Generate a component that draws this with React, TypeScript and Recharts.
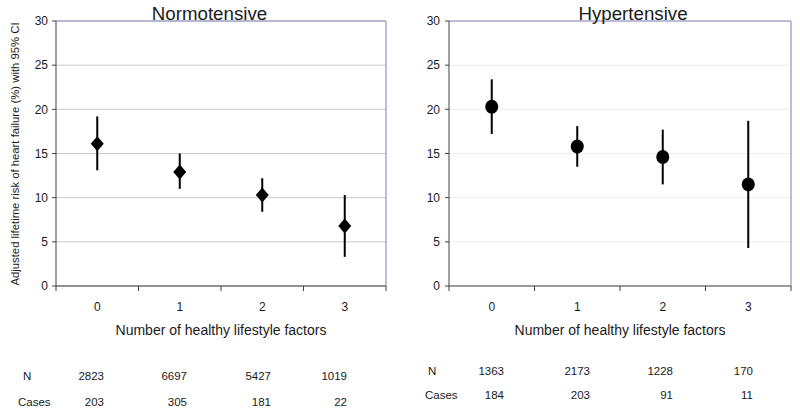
import React from 'react';
import { ComposedChart, Scatter, ErrorBar, XAxis, YAxis, CartesianGrid, ReferenceLine } from 'recharts';

const categories = [0, 1, 2, 3];
const yTicks = [0, 5, 10, 15, 20, 25, 30];

// risk estimate with 95% CI, normotensive group
const normoRisk = [16.1, 12.9, 10.3, 6.8];
const normoLow = [13.1, 11.0, 8.4, 3.3];
const normoHigh = [19.2, 15.0, 12.2, 10.3];

// hypertensive group
const hyperRisk = [20.3, 15.8, 14.6, 11.5];
const hyperLow = [17.2, 13.5, 11.5, 4.3];
const hyperHigh = [23.4, 18.1, 17.7, 18.7];

const normoN = [2823, 6697, 5427, 1019];
const normoCases = [203, 305, 181, 22];
const hyperN = [1363, 2173, 1228, 170];
const hyperCases = [184, 203, 91, 11];

const FONT = '"Liberation Sans", Arial, sans-serif';
const BORDER = '#a6a6cf';
const AXIS = '#404040';

function buildRows(risk: number[], low: number[], high: number[]) {
  return categories.map((c, i) => ({
    x: c,
    risk: risk[i],
    err: [+(risk[i] - low[i]).toFixed(2), +(high[i] - risk[i]).toFixed(2)],
  }));
}

const Diamond = (props: any) => {
  const { cx, cy } = props;
  return <path d={`M${cx},${cy - 7.5}L${cx + 6.5},${cy}L${cx},${cy + 7.5}L${cx - 6.5},${cy}Z`} fill="#000" />;
};

const Dot = (props: any) => {
  const { cx, cy } = props;
  return <ellipse cx={cx} cy={cy} rx={6.5} ry={7} fill="#000" />;
};

const NoTick = () => <g />;

interface PanelProps {
  left: number;
  risk: number[];
  low: number[];
  high: number[];
  shape: any;
  gridColor: string;
  yWidth: number;
  rightMargin: number;
  yTickMargin: number;
}

function Panel({ left, risk, low, high, shape, gridColor, yWidth, rightMargin, yTickMargin }: PanelProps) {
  const rows = buildRows(risk, low, high);
  return (
    <div style={{ position: 'absolute', left, top: 0 }}>
      <ComposedChart width={400} height={340} data={rows} margin={{ top: 21, right: rightMargin, left: 0, bottom: 0 }}>
        <CartesianGrid xAxisId="b_labels" vertical={false} stroke={gridColor} />
        <XAxis
          xAxisId="a_marks"
          type="number"
          dataKey="x"
          domain={[-0.5, 3.5]}
          ticks={[-0.5, 0.5, 1.5, 2.5, 3.5]}
          interval={0}
          tick={NoTick}
          tickSize={5}
          height={6}
          stroke={AXIS}
          allowDataOverflow
        />
        <XAxis
          xAxisId="b_labels"
          type="number"
          dataKey="x"
          domain={[-0.5, 3.5]}
          ticks={categories}
          interval={0}
          axisLine={false}
          tickLine={false}
          tickSize={0}
          tickMargin={10}
          height={48}
          tick={{ fill: '#1a1a1a', fontSize: 12, fontFamily: FONT }}
          label={{ value: 'Number of healthy lifestyle factors', position: 'insideBottom', offset: 5, fill: '#1a1a1a', fontSize: 14, fontFamily: FONT }}
          allowDataOverflow
        />
        <YAxis
          dataKey="risk"
          type="number"
          domain={[0, 30]}
          ticks={yTicks}
          interval={0}
          width={yWidth}
          tickSize={4}
          tickMargin={yTickMargin}
          stroke={AXIS}
          tick={{ fill: '#1a1a1a', fontSize: 12, fontFamily: FONT }}
        />
        <ReferenceLine xAxisId="b_labels" y={30} stroke={BORDER} strokeWidth={1.5} />
        <ReferenceLine xAxisId="b_labels" x={3.5} stroke={BORDER} strokeWidth={1.5} />
        <Scatter xAxisId="b_labels" dataKey="risk" shape={shape} isAnimationActive={false}>
          <ErrorBar dataKey="err" direction="y" width={0} stroke="#000" strokeWidth={2} isAnimationActive={false} />
        </Scatter>
      </ComposedChart>
    </div>
  );
}

const txt: React.CSSProperties = {
  position: 'absolute',
  fontFamily: FONT,
  color: '#1a1a1a',
  lineHeight: 1,
  whiteSpace: 'nowrap',
};

function TableRow({ label, labelX, values, cols, top }: { label: string; labelX: number; values: number[]; cols: number[]; top: number }) {
  return (
    <>
      <div style={{ ...txt, left: labelX, top, fontSize: 11.5 }}>{label}</div>
      {values.map((v, i) => (
        <div key={i} style={{ ...txt, left: cols[i], top, fontSize: 11.5, transform: 'translateX(-100%)' }}>
          {v}
        </div>
      ))}
    </>
  );
}

export default function App() {
  const leftCols = [104, 187, 271, 347];
  const rightCols = [504, 590, 673, 753];
  return (
    <div style={{ position: 'absolute', left: 0, top: 0, width: 800, height: 413, background: '#fff', overflow: 'hidden' }}>
      <Panel left={0} risk={normoRisk} low={normoLow} high={normoHigh} shape={Diamond} gridColor="#c8c8c8" yWidth={56} rightMargin={14} yTickMargin={4} />
      <Panel left={400} risk={hyperRisk} low={hyperLow} high={hyperHigh} shape={Dot} gridColor="#ececec" yWidth={49} rightMargin={9} yTickMargin={5} />

      <div style={{ ...txt, left: 209.5, top: 5, fontSize: 18.7, transform: 'translateX(-50%)' }}>Normotensive</div>
      <div style={{ ...txt, left: 633, top: 5, fontSize: 18.7, transform: 'translateX(-50%)' }}>Hypertensive</div>

      <div style={{ ...txt, left: 16, top: 153.5, fontSize: 11.3, transform: 'translate(-50%, -50%) rotate(-90deg)' }}>
        Adjusted lifetime risk of heart failure (%) with 95% CI
      </div>

      <TableRow label="N" labelX={23} values={normoN} cols={leftCols} top={370.5} />
      <TableRow label="Cases" labelX={18} values={normoCases} cols={leftCols} top={396.5} />
      <TableRow label="N" labelX={428} values={hyperN} cols={rightCols} top={365.5} />
      <TableRow label="Cases" labelX={425} values={hyperCases} cols={rightCols} top={389.5} />
    </div>
  );
}
